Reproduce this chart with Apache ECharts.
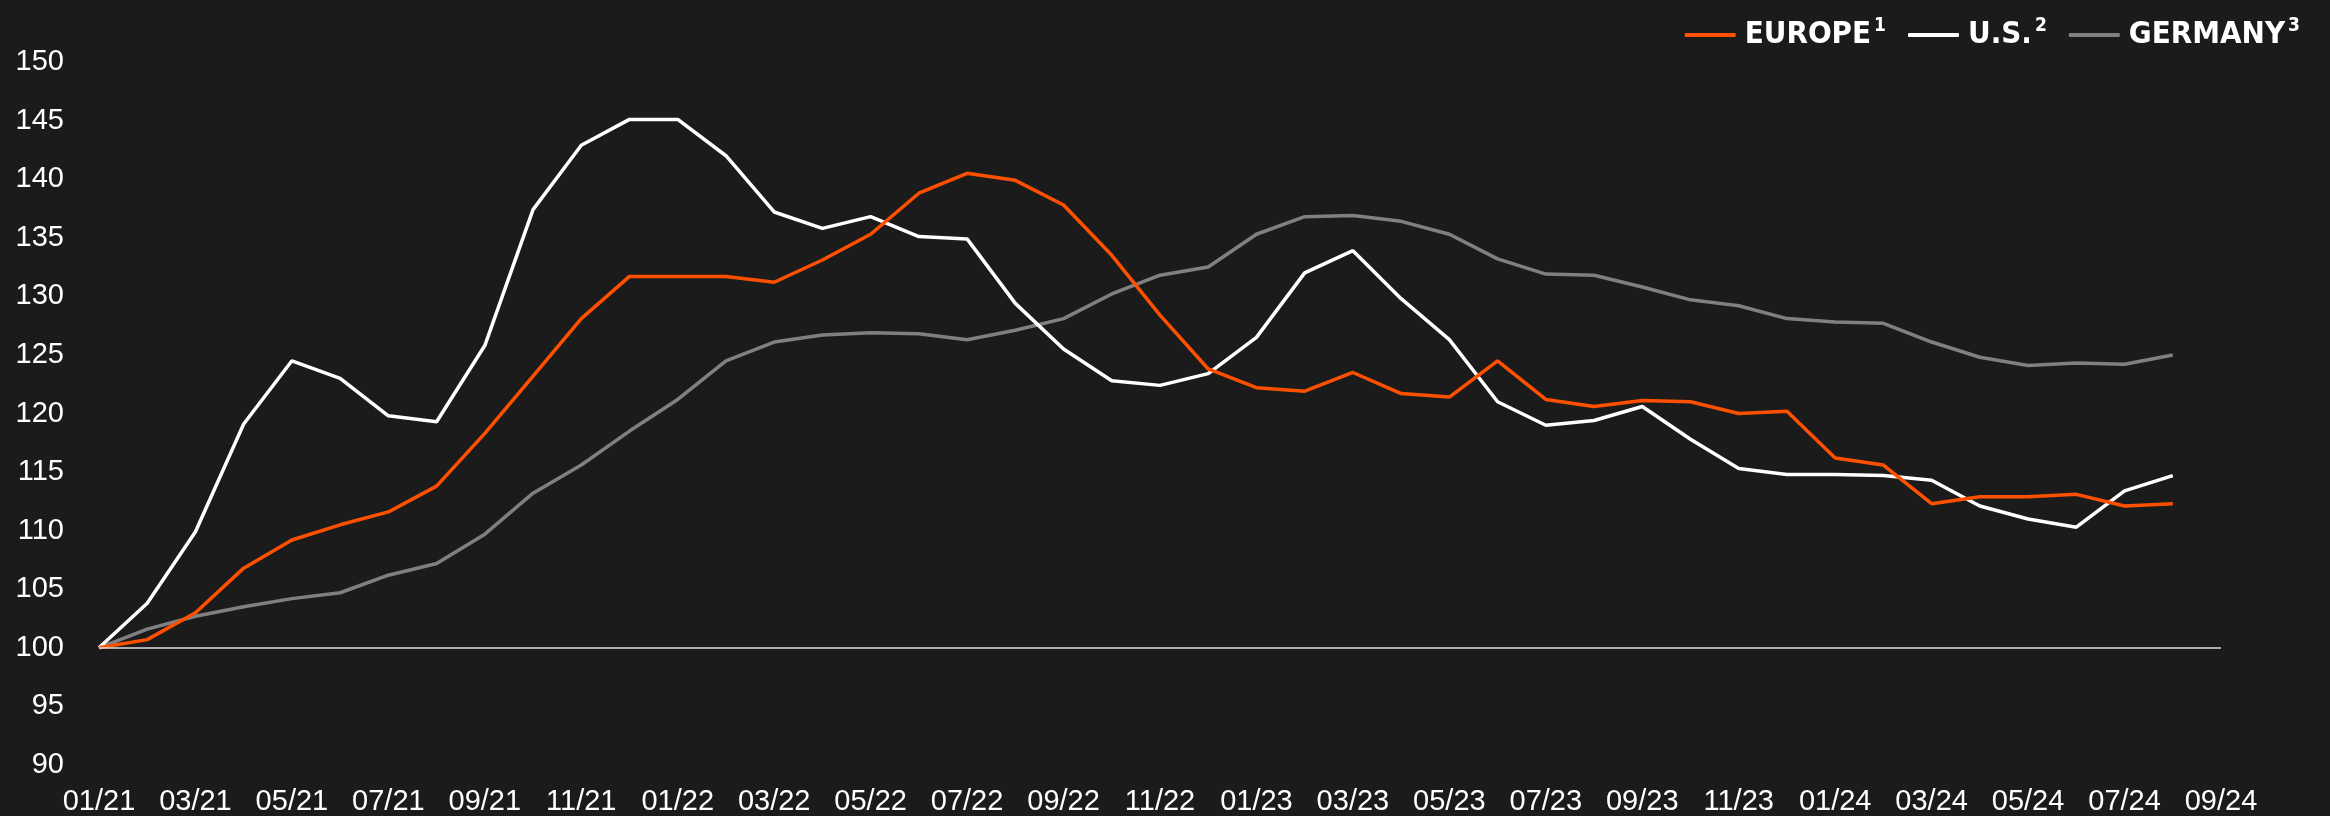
<!DOCTYPE html>
<html>
<head>
<meta charset="utf-8">
<style>
  html, body { margin: 0; padding: 0; background: #1b1b1b; }
  #chart { width: 2330px; height: 816px; }
</style>
<script src="https://cdn.jsdelivr.net/npm/echarts@6/dist/echarts.min.js"></script>
</head>
<body>
<div id="chart"></div>
<script>
const categories = [
  "01/21","02/21","03/21","04/21","05/21","06/21","07/21","08/21","09/21","10/21","11/21","12/21",
  "01/22","02/22","03/22","04/22","05/22","06/22","07/22","08/22","09/22","10/22","11/22","12/22",
  "01/23","02/23","03/23","04/23","05/23","06/23","07/23","08/23","09/23","10/23","11/23","12/23",
  "01/24","02/24","03/24","04/24","05/24","06/24","07/24","08/24","09/24"
];
const europe = [100, 100.7, 103.0, 106.8, 109.2, 110.5, 111.6, 113.8, 118.3, 123.2, 128.1, 131.7,
  131.7, 131.7, 131.2, 133.1, 135.3, 138.8, 140.5, 139.9, 137.8, 133.5, 128.4, 123.8,
  122.2, 121.9, 123.5, 121.7, 121.4, 124.5, 121.2, 120.6, 121.1, 121.0, 120.0, 120.2,
  116.2, 115.6, 112.3, 112.9, 112.9, 113.1, 112.1, 112.3];
const us = [100, 103.8, 109.9, 119.1, 124.5, 123.0, 119.8, 119.3, 125.8, 137.4, 142.9, 145.1,
  145.1, 142.0, 137.2, 135.8, 136.8, 135.1, 134.9, 129.4, 125.5, 122.8, 122.4, 123.4,
  126.5, 132.0, 133.9, 129.8, 126.3, 121.0, 119.0, 119.4, 120.6, 117.8, 115.3, 114.8,
  114.8, 114.7, 114.3, 112.1, 111.0, 110.3, 113.4, 114.7];
const germany = [100, 101.6, 102.7, 103.5, 104.2, 104.7, 106.2, 107.2, 109.7, 113.2, 115.6, 118.5,
  121.2, 124.5, 126.1, 126.7, 126.9, 126.8, 126.3, 127.1, 128.1, 130.2, 131.8, 132.5,
  135.3, 136.8, 136.9, 136.4, 135.3, 133.2, 131.9, 131.8, 130.8, 129.7, 129.2, 128.1,
  127.8, 127.7, 126.1, 124.8, 124.1, 124.3, 124.2, 125.0];
const seriesNames = ["EUROPE", "U.S.", "GERMANY"];
const superscripts = {"EUROPE": "1", "U.S.": "2", "GERMANY": "3"};
const yTicks = { min: 90, max: 150, interval: 5 };
const baseline = 100;

const chart = echarts.init(document.getElementById('chart'), null, { renderer: 'canvas' });
const font = '"Liberation Sans", Arial, Helvetica, sans-serif';
const legendFont = '"Liberation Sans Narrow", "DejaVu Sans Condensed", "Liberation Sans", sans-serif';

chart.setOption({
  backgroundColor: '#1b1b1b',
  animation: false,
  grid: { left: 99, right: 109, top: 62, bottom: 51, containLabel: false },
  legend: {
    right: 25, top: 12,
    itemWidth: 51, itemHeight: 4, itemGap: 22,
    icon: 'roundRect',
    selectedMode: false,
    data: seriesNames,
    formatter: function (name) { return '{t|' + name + '}{s|' + superscripts[name] + '}'; },
    textStyle: {
      color: '#ffffff',
      padding: [0, 0, 0, 4],
      rich: {
        t: { fontFamily: legendFont, fontWeight: 'bold', fontSize: 31, lineHeight: 36, color: '#ffffff' },
        s: { fontFamily: legendFont, fontWeight: 'bold', fontSize: 19, lineHeight: 20, verticalAlign: 'top', color: '#ffffff', padding: [0, 0, 0, 3] }
      }
    }
  },
  xAxis: {
    type: 'category',
    data: categories,
    boundaryGap: false,
    axisLine: { show: false },
    axisTick: { show: false },
    splitLine: { show: false },
    axisLabel: { interval: 1, color: '#ffffff', fontFamily: font, fontSize: 29, margin: 22 }
  },
  yAxis: {
    type: 'value',
    min: yTicks.min, max: yTicks.max, interval: yTicks.interval,
    axisLine: { show: false },
    axisTick: { show: false },
    splitLine: { show: false },
    axisLabel: { color: '#ffffff', fontFamily: font, fontSize: 29, margin: 35 }
  },
  series: [
    {
      name: 'EUROPE', type: 'line', data: europe, symbol: 'none',
      lineStyle: { color: '#ff5000', width: 3.5 }, itemStyle: { color: '#ff5000' },
      markLine: {
        silent: true, symbol: 'none', label: { show: false },
        lineStyle: { color: '#dddddd', width: 1.5, type: 'solid' },
        data: [{ yAxis: baseline }]
      },
      z: 3
    },
    {
      name: 'U.S.', type: 'line', data: us, symbol: 'none',
      lineStyle: { color: '#ffffff', width: 3.5 }, itemStyle: { color: '#ffffff' }, z: 2
    },
    {
      name: 'GERMANY', type: 'line', data: germany, symbol: 'none',
      lineStyle: { color: '#808080', width: 3.5 }, itemStyle: { color: '#808080' }, z: 1
    }
  ]
});
</script>
</body>
</html>
